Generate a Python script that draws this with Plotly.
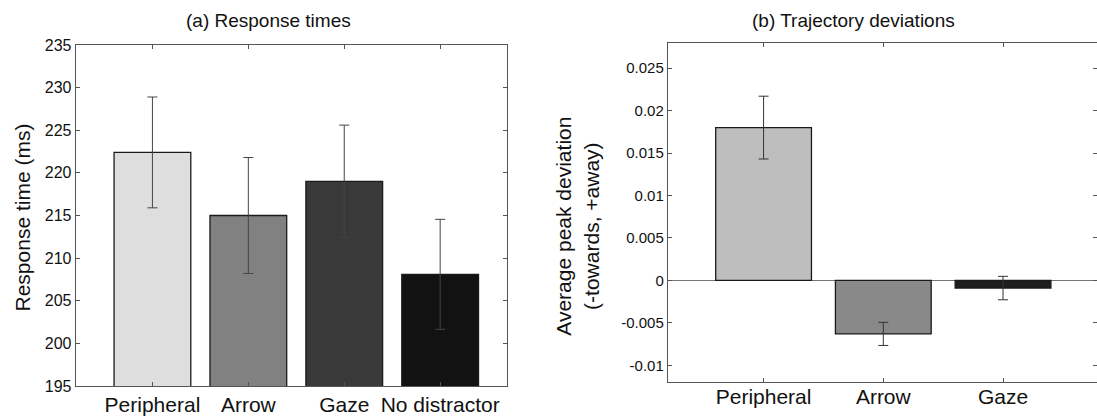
import plotly.graph_objects as go

# (a) response times
rt_labels = ["Peripheral", "Arrow", "Gaze", "No distractor"]
rt_means = [222.4, 215.0, 219.0, 208.1]
rt_err = [6.5, 6.8, 6.6, 6.45]
rt_colors = ["#dedede", "#818181", "#393939", "#121212"]

# (b) trajectory deviations
dev_labels = ["Peripheral", "Arrow", "Gaze"]
dev_means = [0.0180, -0.0063, -0.0009]
dev_err = [0.0037, 0.00136, 0.00138]
dev_colors = ["#bebebe", "#898989", "#1e1e1e"]

W, H = 1097, 416
FONT = "Liberation Sans, Arial, Helvetica, sans-serif"
AXIS_COL = "#555555"

fig = go.Figure()

fig.add_trace(go.Bar(
    x=rt_labels, y=rt_means, width=0.8,
    marker=dict(color=rt_colors, line=dict(color="#1a1a1a", width=1.3)),
    error_y=dict(type="data", array=rt_err, color="#444444", thickness=1, width=5),
    xaxis="x", yaxis="y", showlegend=False,
))

fig.add_trace(go.Bar(
    x=dev_labels, y=dev_means, width=0.8,
    marker=dict(color=dev_colors, line=dict(color="#1a1a1a", width=1.3)),
    error_y=dict(type="data", array=dev_err, color="#333333", thickness=1, width=5),
    xaxis="x2", yaxis="y2", showlegend=False,
))

axis_style = dict(
    showline=True, linecolor=AXIS_COL, linewidth=1, mirror="ticks",
    ticks="inside", ticklen=4, tickcolor=AXIS_COL, showgrid=False,
    automargin=False,
)

fig.update_layout(
    width=W, height=H,
    margin=dict(l=0, r=0, t=0, b=0, pad=0),
    paper_bgcolor="white", plot_bgcolor="white",
    font=dict(family=FONT, color="#111111"),
    xaxis=dict(
        domain=[75.7 / W, 507.3 / W], range=[-0.8, 3.7],
        tickfont=dict(size=21), anchor="y", zeroline=False, **axis_style,
    ),
    yaxis=dict(
        domain=[1 - 386 / H, 1 - 45 / H], range=[195, 235], dtick=5,
        tickfont=dict(size=16), anchor="x", zeroline=False, **axis_style,
    ),
    xaxis2=dict(
        domain=[667.8 / W, 1.0], range=[-0.8, 2.785],
        tickfont=dict(size=21), anchor="y2", zeroline=False,
        ticklabelstandoff=-5, **axis_style,
    ),
    yaxis2=dict(
        domain=[1 - 382.3 / H, 1 - 42.7 / H], range=[-0.012, 0.028],
        tickvals=[-0.01, -0.005, 0, 0.005, 0.01, 0.015, 0.02, 0.025],
        ticktext=["-0.01", "-0.005", "0", "0.005", "0.01", "0.015", "0.02", "0.025"],
        tickfont=dict(size=15), anchor="x2",
        zeroline=True, zerolinecolor="#777777", zerolinewidth=1, **axis_style,
    ),
)

label_kw = dict(xref="paper", yref="paper", showarrow=False,
                xanchor="center", yanchor="middle")
fig.add_annotation(text="(a) Response times", x=268 / W, y=1 - 20 / H,
                   font=dict(size=19), **label_kw)
fig.add_annotation(text="(b) Trajectory deviations", x=853 / W, y=1 - 20 / H,
                   font=dict(size=19), **label_kw)
fig.add_annotation(text="Response time (ms)", textangle=-90, x=22 / W, y=1 - 217.5 / H,
                   font=dict(size=21), **label_kw)
fig.add_annotation(text="Average peak deviation<br>(-towards, +away)", textangle=-90,
                   x=577 / W, y=1 - 226.7 / H, font=dict(size=21), **label_kw)

fig.write_html("out.html", config={"displayModeBar": False},
               post_script="document.body.style.margin='0';")
